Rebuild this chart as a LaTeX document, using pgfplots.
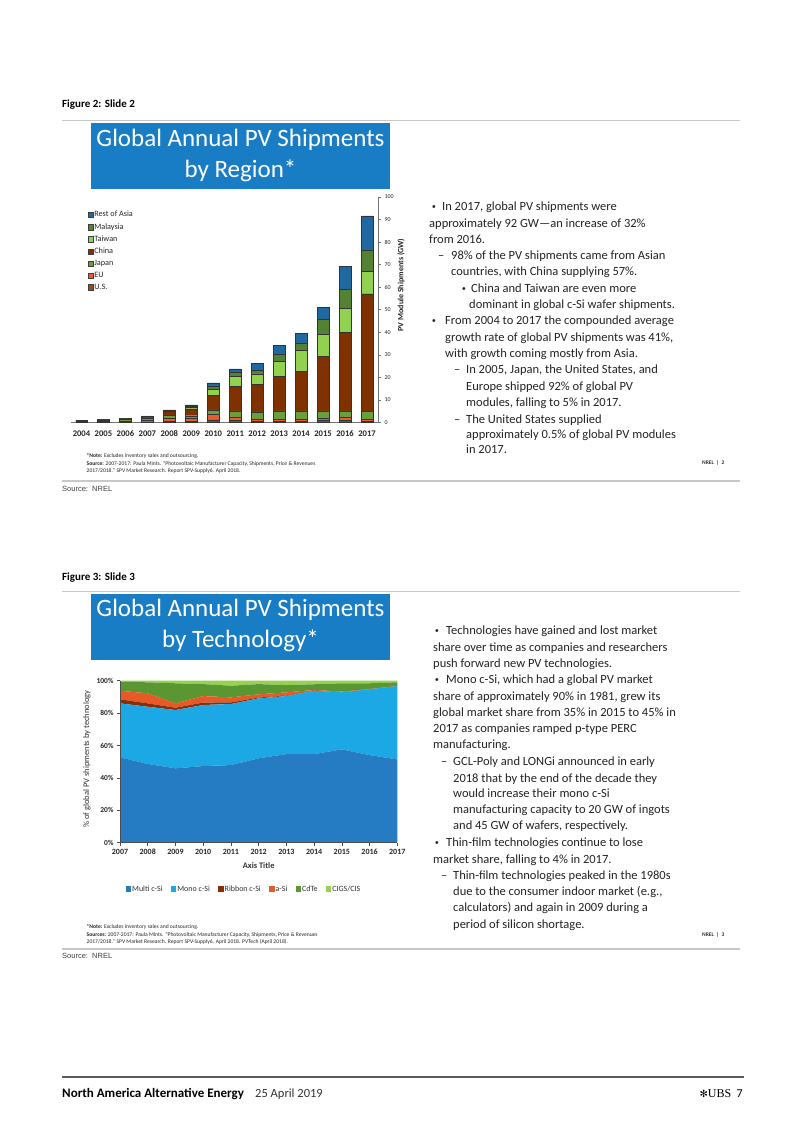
\documentclass[border=0pt]{standalone}
\usepackage{pgfplots}
\pgfplotsset{compat=1.18}
\usepackage{pgfplotstable}
\usepackage{fontspec}
\setmainfont{Carlito}
\newfontfamily\dejavu{DejaVu Sans}
\newfontfamily\lserif{Liberation Serif}
\newfontfamily\lsans{Liberation Sans}

\definecolor{titleblue}{RGB}{24,125,196}
\definecolor{roa}{RGB}{31,105,160}
\definecolor{malay}{RGB}{84,130,53}
\definecolor{taiwan}{RGB}{146,208,80}
\definecolor{china}{RGB}{127,50,0}
\definecolor{japan}{RGB}{106,160,60}
\definecolor{eu}{RGB}{232,93,43}
\definecolor{us}{RGB}{158,72,22}
\definecolor{multi}{RGB}{38,124,194}
\definecolor{mono}{RGB}{28,168,228}
\definecolor{ribbon}{RGB}{140,45,10}
\definecolor{asi}{RGB}{230,90,40}
\definecolor{cdte}{RGB}{90,150,50}
\definecolor{cigs}{RGB}{150,210,80}
\definecolor{bodytxt}{RGB}{35,35,35}
\definecolor{rulegray}{RGB}{200,200,200}

\pgfplotstableread{
year us eu japan china taiwan malaysia roa
2004 0.10 0.30 0.55 0.05 0 0 0
2005 0.15 0.35 0.70 0.10 0 0 0
2006 0.20 0.50 0.90 0.20 0 0 0
2007 0.30 0.80 0.90 0.70 0.20 0 0
2008 0.40 1.50 1.20 1.80 0.40 0.20 0.10
2009 0.60 1.10 1.30 3.00 0.80 0.50 0.50
2010 1.20 2.60 1.80 6.50 2.60 1.50 1.40
2011 0.90 1.60 2.60 10.80 4.40 1.80 1.70
2012 0.60 1.00 3.10 12.20 4.70 1.60 3.00
2013 0.60 0.90 3.60 15.50 6.60 3.20 3.70
2014 0.60 0.90 3.60 17.70 9.30 3.20 4.10
2015 0.80 1.00 3.30 24.30 9.70 6.60 5.20
2016 0.80 1.50 2.80 35.00 10.50 8.50 10.00
2017 0.50 0.80 3.50 52.30 10.00 9.50 15.00
}\regiondata

\pgfplotstableread{
year multi mono ribbon asi cdte cigs
2007 52.7 33.3 2.5 5.3 5.6 0.6
2008 48.6 35.3 2.1 6.2 6.8 1.0
2009 45.9 36.0 1.4 2.7 12.4 1.6
2010 47.3 37.7 1.5 4.0 7.4 2.1
2011 47.9 37.7 1.0 3.1 7.2 3.1
2012 52.1 37.0 0.5 2.0 6.3 2.1
2013 54.7 35.8 0.3 2.0 4.5 2.7
2014 54.7 39.1 0.1 0.4 3.5 2.2
2015 57.6 35.2 0.1 0.3 5.2 1.6
2016 54.1 40.6 0.0 0.2 3.5 1.6
2017 51.4 45.3 0.0 0.1 2.2 1.0
}\techdata

\tikzset{
  bt/.style={anchor=base west, inner sep=0pt, font=\fontsize{12.5}{15}\selectfont, text=bodytxt},
  bl/.style={anchor=base west, inner sep=0pt, font=\lsans\fontsize{10.5}{12}\selectfont, text=bodytxt, yshift=0.5pt},
  nt/.style={anchor=base west, inner sep=0pt, font=\fontsize{5.6}{6.5}\selectfont, text=black!85},
}

\begin{document}
\begin{tikzpicture}
\path[fill=white,use as bounding box] (0pt,0pt) rectangle (802pt,1133pt);

% ---------------- Figure 2 -----------------
\node[anchor=base west, inner sep=0pt, font=\fontsize{11}{13}\selectfont\bfseries] at (62pt,1025pt) {Figure 2: Slide 2};
\draw[rulegray, line width=1pt] (62pt,1012pt) -- (740pt,1012pt);
\fill[titleblue] (91pt,1010pt) rectangle (390pt,944pt);
\node[align=center, text=white, inner sep=0pt, font=\fontsize{25}{31}\selectfont] at (240.5pt,977.5pt) {Global Annual PV Shipments\\by Region*};

\begin{axis}[
  at={(70.5pt,710.5pt)}, anchor=south west, scale only axis,
  width=307.5pt, height=225.5pt,
  xmin=2003.5, xmax=2017.5, ymin=0, ymax=100,
  ybar stacked, bar width=11.5pt,
  axis x line*=bottom, axis y line*=right,
  axis line style={black!55, line width=0.5pt},
  tick style={black!55, line width=0.5pt},
  tick align=outside,
  /pgf/number format/assume math mode=true,
  /pgf/number format/1000 sep={},
  xtick={2004,2005,...,2017},
  major x tick style={draw=none},
  minor x tick num=1, minor tick length=3.5pt,
  xticklabel style={font=\fontsize{8.6}{9}\selectfont\bfseries, text=black!85},
  xticklabel shift=2pt,
  ytick={0,10,...,100}, major tick length=3pt,
  yticklabel style={font=\fontsize{6}{7}\selectfont, text=black!85},
  ylabel={PV Module Shipments (GW)},
  ylabel style={at={(rel axis cs:1.075,0.61)}, anchor=center, rotate=0, font=\fontsize{8}{9}\selectfont\bfseries, text=black!85},
  reverse legend,
  legend style={at={(0.045,0.95)}, anchor=north west, draw=none, fill=none,
    font=\fontsize{8.2}{9}\selectfont, text=black!85, row sep=3.5pt,
    nodes={inner sep=0.8pt}, cells={anchor=west}},
  legend image code/.code={\draw[#1,draw=black!75,line width=0.4pt] (0pt,-2.8pt) rectangle (5.6pt,2.8pt);},
  every axis plot/.append style={draw=black!80, line width=0.45pt},
]
\addplot[fill=us] table[x=year,y=us]{\regiondata};
\addplot[fill=eu] table[x=year,y=eu]{\regiondata};
\addplot[fill=japan] table[x=year,y=japan]{\regiondata};
\addplot[fill=china] table[x=year,y=china]{\regiondata};
\addplot[fill=taiwan] table[x=year,y=taiwan]{\regiondata};
\addplot[fill=malay] table[x=year,y=malaysia]{\regiondata};
\addplot[fill=roa] table[x=year,y=roa]{\regiondata};
\legend{U.S.,EU,Japan,China,Taiwan,Malaysia,Rest of Asia}
\end{axis}

% right column text slide 2
\node[bl] at (432pt,922.3pt) {•};
\node[bt] at (442pt,922.3pt) {In 2017, global PV shipments were};
\node[bt] at (429pt,905.7pt) {approximately 92 GW—an increase of 32\%};
\node[bt] at (429pt,889pt) {from 2016.};
\node[bt] at (438pt,873.3pt) {–};
\node[bt] at (451pt,873.3pt) {98\% of the PV shipments came from Asian};
\node[bt] at (451pt,857pt) {countries, with China supplying 57\%.};
\node[bl] at (462pt,840pt) {•};
\node[bt] at (471pt,840pt) {China and Taiwan are even more};
\node[bt] at (469pt,824pt) {dominant in global c-Si wafer shipments.};
\node[bl] at (432pt,808pt) {•};
\node[bt] at (445pt,808pt) {From 2004 to 2017 the compounded average};
\node[bt] at (445pt,791.3pt) {growth rate of global PV shipments was 41\%,};
\node[bt] at (445pt,775pt) {with growth coming mostly from Asia.};
\node[bt] at (454pt,759pt) {–};
\node[bt] at (466pt,759pt) {In 2005, Japan, the United States, and};
\node[bt] at (466pt,742.3pt) {Europe shipped 92\% of global PV};
\node[bt] at (466pt,726.3pt) {modules, falling to 5\% in 2017.};
\node[bt] at (454pt,709.7pt) {–};
\node[bt] at (466pt,709.7pt) {The United States supplied};
\node[bt] at (466pt,694pt) {approximately 0.5\% of global PV modules};
\node[bt] at (466pt,679pt) {in 2017.};
\node[anchor=base west, inner sep=0pt, font=\fontsize{5.5}{6}\selectfont\bfseries, text=black!80] at (702pt,668pt) {NREL \ | \ 2};

% notes slide 2
\node[nt] at (86.5pt,675.3pt) {\textbf{*Note:} Excludes inventory sales and outsourcing.};
\node[nt] at (86.5pt,667.3pt) {\textbf{Source:} 2007-2017: Paula Mints. “Photovoltaic Manufacturer Capacity, Shipments, Price \& Revenues};
\node[nt] at (86.5pt,660pt) {2017/2018.” SPV Market Research. Report SPV-Supply6. April 2018.};
\draw[rulegray, line width=1.2pt] (62pt,652pt) -- (740pt,652pt);
\node[anchor=base west, inner sep=0pt, font=\lsans\fontsize{7.5}{9}\selectfont, text=black!75] at (62pt,641.5pt) {Source:\ \ NREL};

% ---------------- Figure 3 -----------------
\node[anchor=base west, inner sep=0pt, font=\fontsize{11}{13}\selectfont\bfseries] at (62pt,552pt) {Figure 3: Slide 3};
\draw[rulegray, line width=1pt] (62pt,541pt) -- (740pt,541pt);
\fill[titleblue] (91pt,539pt) rectangle (390pt,473pt);
\node[align=center, text=white, inner sep=0pt, font=\fontsize{25}{31}\selectfont] at (240.5pt,507.5pt) {Global Annual PV Shipments\\by Technology*};

\begin{axis}[
  at={(120pt,290.3pt)}, anchor=south west, scale only axis,
  width=277.3pt, height=162pt,
  xmin=2007, xmax=2017, ymin=0, ymax=100,
  stack plots=y, area style,
  axis lines*=left, axis on top,
  axis line style={black!70, line width=0.6pt},
  tick style={black!70, line width=0.5pt},
  tick align=outside, major tick length=3pt,
  /pgf/number format/assume math mode=true,
  /pgf/number format/1000 sep={},
  xtick={2007,2008,...,2017},
  ytick={0,20,...,100},
  yticklabel={\pgfmathprintnumber{\tick}\%},
  xticklabel style={font=\fontsize{8}{9}\selectfont\bfseries, text=black!85},
  yticklabel style={font=\fontsize{7.5}{9}\selectfont\bfseries, text=black!85},
  xlabel={Axis Title},
  xlabel style={at={(rel axis cs:0.5,-0.144)}, anchor=center, font=\fontsize{8.4}{9}\selectfont\bfseries, text=black!80},
  ylabel={\% of global PV shipments by technology},
  ylabel style={at={(rel axis cs:-0.119,0.517)}, anchor=center, font=\fontsize{8.5}{9}\selectfont, text=black!80},
  legend columns=6,
  legend style={at={(0.01,-0.286)}, anchor=west, draw=none, fill=none,
    font=\fontsize{8}{9}\selectfont, text=black!80,
    /tikz/every even column/.append style={column sep=7.5pt},
    nodes={inner sep=1pt}},
  legend image code/.code={\fill[#1] (0pt,-2.6pt) rectangle (5.2pt,2.6pt);},
]
\addplot[fill=multi, draw=none] table[x=year,y=multi]{\techdata} \closedcycle;
\addplot[fill=mono, draw=none] table[x=year,y=mono]{\techdata} \closedcycle;
\addplot[fill=ribbon, draw=none] table[x=year,y=ribbon]{\techdata} \closedcycle;
\addplot[fill=asi, draw=none] table[x=year,y=asi]{\techdata} \closedcycle;
\addplot[fill=cdte, draw=none] table[x=year,y=cdte]{\techdata} \closedcycle;
\addplot[fill=cigs, draw=none] table[x=year,y=cigs]{\techdata} \closedcycle;
\legend{Multi c-Si,Mono c-Si,Ribbon c-Si,a-Si,CdTe,CIGS/CIS}
\end{axis}

% right column text slide 3
\node[bl] at (435pt,498.3pt) {•};
\node[bt] at (446pt,498.3pt) {Technologies have gained and lost market};
\node[bt] at (433pt,481.7pt) {share over time as companies and researchers};
\node[bt] at (433pt,465pt) {push forward new PV technologies.};
\node[bl] at (435pt,449pt) {•};
\node[bt] at (446pt,449pt) {Mono c-Si, which had a global PV market};
\node[bt] at (433pt,432.3pt) {share of approximately 90\% in 1981, grew its};
\node[bt] at (433pt,416.3pt) {global market share from 35\% in 2015 to 45\% in};
\node[bt] at (433pt,400pt) {2017 as companies ramped p-type PERC};
\node[bt] at (433pt,384pt) {manufacturing.};
\node[bt] at (441pt,367.3pt) {–};
\node[bt] at (453pt,367.3pt) {GCL-Poly and LONGi announced in early};
\node[bt] at (453pt,350.7pt) {2018 that by the end of the decade they};
\node[bt] at (453pt,335pt) {would increase their mono c-Si};
\node[bt] at (453pt,319pt) {manufacturing capacity to 20 GW of ingots};
\node[bt] at (453pt,303.3pt) {and 45 GW of wafers, respectively.};
\node[bl] at (435pt,286pt) {•};
\node[bt] at (446pt,286pt) {Thin-film technologies continue to lose};
\node[bt] at (433pt,269.7pt) {market share, falling to 4\% in 2017.};
\node[bt] at (441pt,253.3pt) {–};
\node[bt] at (453pt,253.3pt) {Thin-film technologies peaked in the 1980s};
\node[bt] at (453pt,237.3pt) {due to the consumer indoor market (e.g.,};
\node[bt] at (453pt,221.3pt) {calculators) and again in 2009 during a};
\node[bt] at (453pt,204.7pt) {period of silicon shortage.};
\node[anchor=base west, inner sep=0pt, font=\fontsize{5.5}{6}\selectfont\bfseries, text=black!80] at (702pt,196pt) {NREL \ | \ 3};

% notes slide 3
\node[nt] at (86.5pt,204pt) {\textbf{*Note:} Excludes inventory sales and outsourcing.};
\node[nt] at (86.5pt,196.5pt) {\textbf{Sources:} 2007-2017: Paula Mints. “Photovoltaic Manufacturer Capacity, Shipments, Price \& Revenues};
\node[nt] at (86.5pt,189pt) {2017/2018.” SPV Market Research. Report SPV-Supply6. April 2018. PVTech (April 2018).};
\draw[rulegray, line width=1.2pt] (62pt,184pt) -- (740pt,184pt);
\node[anchor=base west, inner sep=0pt, font=\lsans\fontsize{7.5}{9}\selectfont, text=black!75] at (62pt,174pt) {Source:\ \ NREL};

% ---------------- Footer -----------------
\draw[black!65, line width=1.3pt] (62pt,56pt) -- (744pt,56pt);
\node[anchor=base west, inner sep=0pt, font=\fontsize{13}{15}\selectfont\bfseries] at (62pt,35pt) {North America Alternative Energy};
\node[anchor=base west, inner sep=0pt, font=\fontsize{12.5}{15}\selectfont, text=black!80] at (255pt,35pt) {25 April 2019};
\node[anchor=base east, inner sep=0pt, font=\fontsize{12}{15}\selectfont] at (743pt,35pt) {{\dejavu\fontsize{10}{12}\selectfont ✻}{\lserif UBS}\ \ 7};
\end{tikzpicture}
\end{document}
